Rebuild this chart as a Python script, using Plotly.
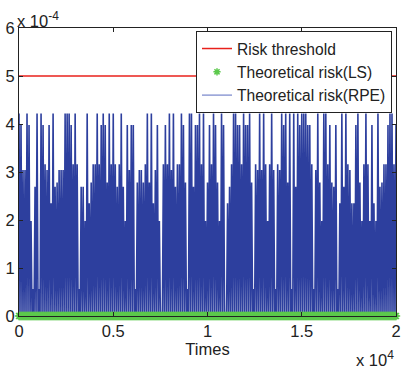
import plotly.graph_objects as go

# Risk levels (units of 1e-4) observed in the chart
A, B, C, D, E, F, G, H, L, Z = 4.22, 3.98, 3.16, 3.04, 2.78, 2.69, 2.35, 1.98, 0.56, 0.0

# Theoretical risk (RPE), x 1e-4 -- value read column by column (each peak returns to 0)
rpe_risk_e4 = [
    A, 0, B, 0, D, 0, D, 0, A, 0, B, 0, H, 0, L, 0, F, 0, A, 0, L, 0, A, 0, B, 0, C, 0, D, 0, B, 0,
    G, 0, A, 0, F, 0, E, 0, D, 0, D, 0, D, 0, A, 0, A, 0, A, 0, B, 0, C, 0, A, 0, C, 0, L, 0, F, 0,
    F, 0, H, 0, A, 0, G, 0, E, 0, C, 0, C, 0, A, 0, C, 0, B, 0, A, 0, B, 0, E, 0, A, 0, C, 0,
    A, 0, C, 0, F, 0, C, 0, A, 0, F, 0, H, 0, B, 0, D, 0, B, 0, B, 0, L, 0, E, 0, D, 0, D, 0, E, 0,
    C, 0, A, 0, E, 0, A, 0, G, 0, D, 0, B, 0, H, 0, Z, 0, C, 0, B, 0, C, 0, A, 0, D, 0, A, 0, F, 0,
    C, 0, C, 0, A, 0, B, 0, E, 0, L, 0, A, 0, A, 0, F, 0, B, 0, B, 0, A, 0, C, 0, A, 0, H, 0, E, 0,
    B, 0, C, 0, A, 0, B, 0, E, 0, H, 0, A, 0, B, 0, Z, 0, G, 0, F, 0, C, 0, A, 0, A, 0, B, 0, B, 0,
    C, 0, A, 0, B, 0, B, 0, A, 0, E, 0, L, 0, C, 0, D, 0, A, 0, D, 0, A, 0, C, 0, H, 0, C, 0, A, 0,
    D, 0, L, 0, C, 0, D, 0, A, 0, B, 0, A, 0, E, 0, A, 0, L, 0, A, 0, F, 0, A, 0, B, 0, A, 0,
    A, 0, A, 0, B, 0, B, 0, C, 0, L, 0, D, 0, A, 0, E, 0, H, 0, A, 0, A, 0, C, 0, B, 0, E, 0, F, 0,
    B, 0, L, 0, G, 0, A, 0, F, 0, A, 0, C, 0, D, 0, G, 0, G, 0, B, 0, A, 0, E, 0, H, 0, C, 0, A, 0,
    C, 0, H, 0, B, 0, G, 0, H, 0, A, 0, F, 0, E, 0, C, 0, C, 0, B, 0, A, 0, A, 0, C, 0, B,
]

# Sample times (0 .. 20000)
times = [i * 20000 / (len(rpe_risk_e4) - 1) for i in range(len(rpe_risk_e4))]

# Theoretical risk (LS) is zero everywhere
ls_risk_e4 = [0.0 for _ in times]

# Risk threshold (x 1e-4)
threshold_times = [0, 20000]
threshold_e4 = [5.0, 5.0]

x_tickvals = [0, 5000, 10000, 15000, 20000]
x_ticktext = ["0", "0.5", "1", "1.5", "2"]
y_tickvals = [0, 1, 2, 3, 4, 5, 6]
y_ticktext = ["0", "1", "2", "3", "4", "5", "6"]

FONT = "Liberation Sans, Arial, sans-serif"
FS = 16.5

fig = go.Figure()
fig.add_trace(go.Scatter(
    x=times, y=rpe_risk_e4, mode="lines", name="Theoretical risk(RPE)",
    line=dict(color="#2d3f9e", width=1.6), showlegend=False))
fig.add_trace(go.Scatter(
    x=times, y=ls_risk_e4, mode="markers", name="Theoretical risk(LS)",
    marker=dict(symbol="asterisk-open", size=7, color="#5cc94c",
                line=dict(color="#5cc94c", width=1.5)),
    cliponaxis=False, showlegend=False))
fig.add_trace(go.Scatter(
    x=threshold_times, y=threshold_e4, mode="lines", name="Risk threshold",
    line=dict(color="#e8211b", width=1.5)))
# legend entries (order as in reference)
fig.add_trace(go.Scatter(
    x=[None], y=[None], mode="markers", name="Theoretical risk(LS)",
    marker=dict(symbol="asterisk-open", size=6, color="#5cc94c",
                line=dict(color="#5cc94c", width=1.5))))
fig.add_trace(go.Scatter(
    x=[None], y=[None], mode="lines", name="Theoretical risk(RPE)",
    line=dict(color="#5a6cc0", width=1)))

fig.update_layout(
    width=401, height=370,
    margin=dict(l=19, r=5, t=28, b=54, autoexpand=False),
    paper_bgcolor="white", plot_bgcolor="white",
    font=dict(family=FONT, size=FS, color="#222"),
    legend=dict(x=0.9894, xanchor="right", y=0.99, yanchor="top",
                bgcolor="white", bordercolor="#222", borderwidth=1,
                font=dict(size=15.6), tracegroupgap=0, itemwidth=30),
    annotations=[
        dict(text="x 10<sup><span style='font-size:12px'>-4</span></sup>",
             xref="paper", yref="paper", x=0, y=1.03, xshift=-4,
             xanchor="left", yanchor="middle", showarrow=False,
             font=dict(size=FS)),
        dict(text="x 10<sup><span style='font-size:12px'>4</span></sup>",
             xref="paper", yref="paper", x=1.0, y=-0.146,
             xanchor="right", yanchor="middle", showarrow=False,
             font=dict(size=FS)),
    ],
)
fig.update_xaxes(range=[0, 20000], tickvals=x_tickvals, ticktext=x_ticktext,
                 ticks="inside", ticklen=4, tickcolor="#222", automargin=False,
                 showline=True, linecolor="#222", linewidth=1, mirror="ticks",
                 showgrid=False, zeroline=False,
                 title=dict(text="Times", standoff=4, font=dict(size=FS)))
fig.update_yaxes(range=[0, 6], tickvals=y_tickvals, ticktext=y_ticktext,
                 ticks="inside", ticklen=4, tickcolor="#222", automargin=False,
                 showline=True, linecolor="#222", linewidth=1, mirror="ticks",
                 showgrid=False, zeroline=False)

fig.write_html("out.html", config={"displayModeBar": False},
               post_script="document.body.style.margin='0';document.body.style.overflow='hidden';")
